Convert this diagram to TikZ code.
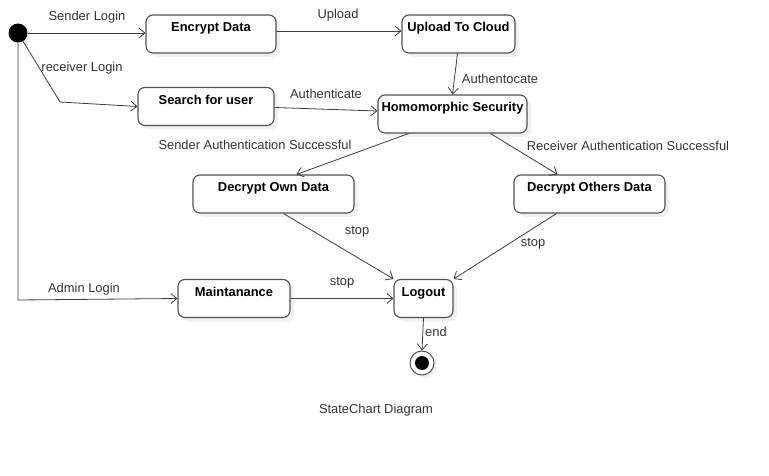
\documentclass[tikz,border=0pt]{standalone}
\usepackage{fontspec}
\setmainfont{Liberation Sans}
\usetikzlibrary{arrows.meta, shadows}
\definecolor{lineGray}{RGB}{60, 60, 60}
\definecolor{boxGray}{RGB}{80, 80, 80}
\definecolor{textGray}{RGB}{51, 51, 51}

\begin{document}
\begin{tikzpicture}[x=1pt, y=-1pt,
    state/.style={draw=boxGray, line width=1.1pt, rounded corners=7pt, fill=white,
      font=\fontsize{12.9}{15}\selectfont\bfseries, inner sep=2pt,
      text height=14pt, text depth=18pt, minimum height=38pt,
      drop shadow={opacity=0.12, shadow xshift=4pt, shadow yshift=-4pt}},
    trans/.style={draw=lineGray, line width=0.8pt, -{Straight Barb[length=6pt, width=10pt]}},
    lbl/.style={text=textGray, font=\fontsize{12.9}{15}\selectfont, inner sep=0pt}]
      \useasboundingbox (0,0) rectangle (769,476);

      % Pseudo states
      \node[circle, fill=black, minimum size=19pt, inner sep=0pt,
        drop shadow={opacity=0.12, shadow xshift=3pt, shadow yshift=-3pt}] (init) at (18,33) {};
      \node[circle, draw=boxGray, line width=1pt, fill=white, minimum size=24pt, inner sep=0pt,
        drop shadow={opacity=0.12, shadow xshift=3pt, shadow yshift=-3pt}] (final) at (422,363) {};
      \fill (final) circle (7);

      % States
      \node[state, minimum width=130pt] (encrypt) at (211,34) {Encrypt Data};
      \node[state, minimum width=113pt] (upload) at (458.5,34) {Upload To Cloud};
      \node[state, minimum width=136pt] (search) at (206,106.5) {Search for user};
      \node[state, minimum width=149pt] (homo) at (452.5,114) {Homomorphic Security};
      \node[state, minimum width=161pt] (ownData) at (273.5,194) {Decrypt Own Data};
      \node[state, minimum width=151pt] (otherData) at (589.5,194) {Decrypt Others Data};
      \node[state, minimum width=112pt] (maint) at (234,298.5) {Maintanance};
      \node[state, minimum width=59pt] (logout) at (423.5,298.5) {Logout};

      % Bends of the login transitions
      \coordinate (rBend) at (60,102);
      \coordinate (aBend) at (18,300);

      % Transitions
      \draw[trans] (init) -- (encrypt.west |- init);
      \draw[trans] (init) -- (rBend) -- (search.west);
      \draw[trans] (init.south) -- (aBend) -- (maint.west);
      \draw[trans] ([yshift=3pt]encrypt.east) -- ([yshift=3pt]upload.west);
      \draw[trans] ([xshift=-1pt]upload.south) -- (homo.north);
      \draw[trans] ([yshift=-1pt]search.east) -- ([yshift=3pt]homo.west);
      \draw[trans] ([xshift=-44pt]homo.south) -- ([xshift=23pt]ownData.north);
      \draw[trans] ([xshift=38pt]homo.south) -- ([xshift=-32pt]otherData.north);
      \draw[trans] ([xshift=10pt]ownData.south) -- (logout.north west);
      \draw[trans] ([xshift=-33pt]otherData.south) -- (logout.north east);
      \draw[trans] (maint.east) -- (logout.west);
      \draw[trans] (logout.south) -- (final.north);

      % Transition labels
      \node[lbl] at (87,17) {Sender Login};
      \node[lbl] at (82,68) {receiver Login};
      \node[lbl] at (84,289) {Admin Login};
      \node[lbl] at (338,15) {Upload};
      \node[lbl] at (500,79) {Authentocate};
      \node[lbl] at (326,94) {Authenticate};
      \node[lbl] at (255,145) {Sender Authentication Successful};
      \node[lbl] at (628,146) {Receiver Authentication Successful};
      \node[lbl] at (357,232) {stop};
      \node[lbl] at (533,244) {stop};
      \node[lbl] at (342,283) {stop};
      \node[lbl] at (436,332) {end};

      \node[lbl] (caption) at (376,410) {StateChart Diagram};
    \end{tikzpicture}
\end{document}
